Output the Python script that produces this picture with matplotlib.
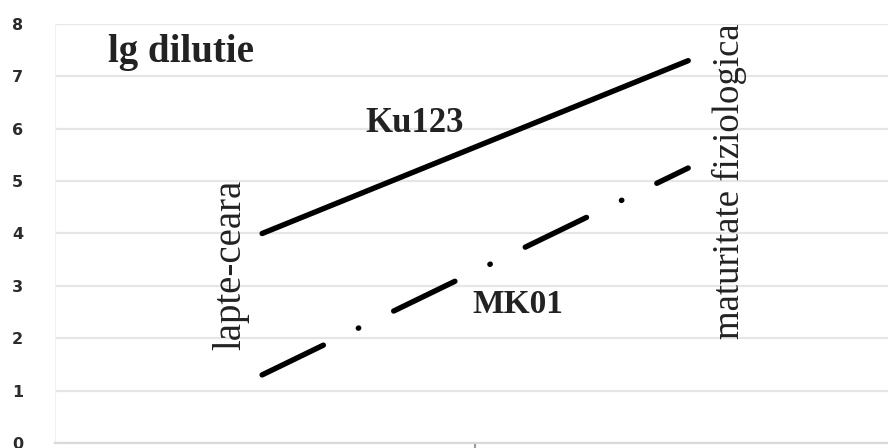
import numpy as np
import matplotlib
matplotlib.use('Agg')
import matplotlib.pyplot as plt

# two growth stages, one line per hybrid
stages = ['lapte-ceara', 'maturitate fiziologica']
ku123 = [4.0, 7.3]
mk01 = [1.3, 5.25]
y_ticks = [0, 1, 2, 3, 4, 5, 6, 7, 8]

plt.rcParams['lines.scale_dashes'] = False

fig = plt.figure(figsize=(8.88, 4.48), dpi=100)
ax = fig.add_axes([0.062, 0.0112, 0.938, 0.9352])

x = np.arange(len(stages))
ax.plot(x, ku123, color='black', lw=3.9, solid_capstyle='round')
ax.plot(x, mk01, color='black', lw=3.9, dash_capstyle='round',
        dashes=(49, 28, 0.3, 28))

ax.set_xlim(-0.486, 1.469)
ax.set_ylim(0, 8)
ax.set_yticks(y_ticks)
ax.set_yticklabels([str(v) for v in y_ticks], fontsize=11.5, fontweight='heavy',
                   color='#2b2b2b', family='DejaVu Sans')
ax.tick_params(axis='y', length=0, pad=27)
for lab in ax.get_yticklabels():
    lab.set_horizontalalignment('center')
ax.set_xticks([0.5])
ax.set_xticklabels([''])
ax.tick_params(axis='x', length=4, width=1.5, color='#999999')

ax.grid(axis='y', color='#e6e6e6', lw=1.6)
ax.set_axisbelow(True)
for s in ['top', 'right']:
    ax.spines[s].set_visible(False)
ax.spines['left'].set_color('#f0f0f0')
ax.spines['bottom'].set_color('#d9d9d9')
ax.spines['bottom'].set_linewidth(1.6)

serif = 'Liberation Serif'
ax.text(-0.361, 7.27, 'lg dilutie', fontsize=28, fontweight='bold',
        family=serif, color='#222222', va='baseline', ha='left')
ax.text(0.242, 5.93, 'Ku123', fontsize=25, fontweight='bold',
        family=serif, color='#222222', va='baseline', ha='left')
ax.text(0.493, 2.48, 'MK01', fontsize=24, fontweight='bold',
        family=serif, color='#222222', va='baseline', ha='left')
ax.text(-0.073, 3.40, stages[0], fontsize=28, family=serif, color='#222222',
        rotation=90, ha='center', va='center')
ax.text(1.096, 5.0, stages[1], fontsize=26.5, family=serif, color='#222222',
        rotation=90, ha='center', va='center')

fig.savefig('out.png', dpi=100)
